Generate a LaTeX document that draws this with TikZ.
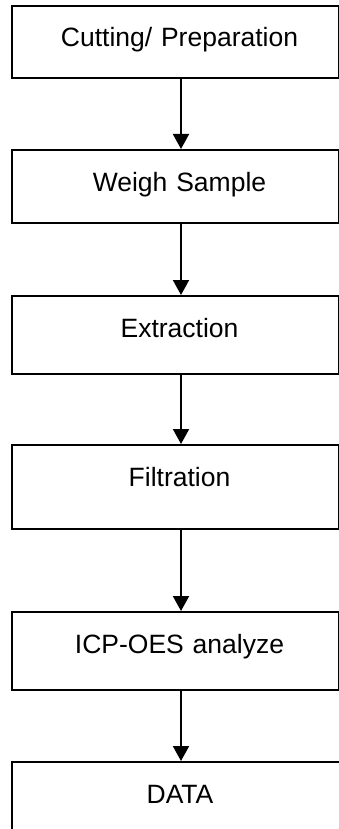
\documentclass[tikz,border=0pt]{standalone}
\usepackage{fontspec}
\setmainfont{Liberation Sans}
\usetikzlibrary{arrows.meta}

\tikzset{
  stepbox/.style={draw, line width=2pt, anchor=north west,
    inner xsep=0pt, inner ysep=0pt, text width=327pt, align=center,
    text height=41pt, text depth=#1,
    font=\fontsize{26.5}{30}\selectfont,
    execute at begin node=\hspace*{8pt}},
  flow/.style={line width=2pt, -{Triangle[width=16pt,length=15pt]}}
}

\begin{document}
\begin{tikzpicture}[x=1pt,y=1pt]
    \useasboundingbox (0,0) rectangle (339,-829);

    \node[stepbox=31pt] (cut) at (11,-5) {Cutting/ Preparation};
    \node[stepbox=32pt] (weigh) at (11,-149) {Weigh Sample};
    \node[stepbox=37pt] (extract) at (11,-295) {Extraction};
    \node[stepbox=43pt] (filter) at (11,-444) {Filtration};
    \node[stepbox=37pt] (icp) at (11,-611) {ICP-OES analyze};
    \node[stepbox=39pt, text width=345pt] (data) at (11,-761) {\hspace*{-17pt}DATA};

    % arrows sit a bit right of the box centre
    \coordinate (ax) at (181,0);
    \draw[flow] (cut.south -| ax) -- (weigh.north -| ax);
    \draw[flow] (weigh.south -| ax) -- (extract.north -| ax);
    \draw[flow] (extract.south -| ax) -- (filter.north -| ax);
    \draw[flow] (filter.south -| ax) -- (icp.north -| ax);
    \draw[flow] (icp.south -| ax) -- (data.north -| ax);
\end{tikzpicture}
\end{document}
